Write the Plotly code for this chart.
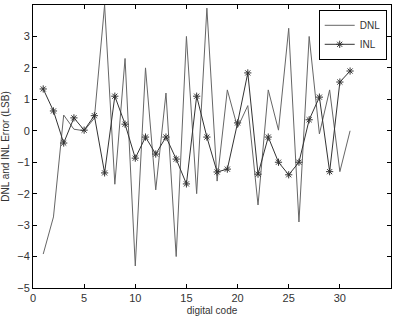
import plotly.graph_objects as go

codes = list(range(1, 32))
dnl = [-3.92, -2.74, 0.5, 0.05, 0.0, 0.4, 4.0, -1.7, 2.3, -4.3,
       2.0, -1.88, 1.2, -4.0, 3.0, -2.0, 3.9, -1.6, 1.3, 0.1,
       0.8, -2.36, 1.3, 0.02, 3.26, -2.9, 3.0, -0.1, 1.3, -1.3, 0.0]
inl = [1.33, 0.63, -0.39, 0.41, 0.02, 0.48, -1.34, 1.1, 0.21, -0.87,
       -0.2, -0.74, -0.2, -0.9, -1.69, 1.1, -0.2, -1.31, -1.22, 0.25,
       1.84, -1.38, -0.2, -1.0, -1.4, -1.0, 0.35, 1.07, -1.3, 1.55, 1.9]
xticks = [0, 5, 10, 15, 20, 25, 30, 35]
yticks = [-5, -4, -3, -2, -1, 0, 1, 2, 3, 4]

FONT = "Liberation Sans, Arial"
fig = go.Figure()
fig.add_trace(go.Scatter(x=codes, y=dnl, mode="lines", name="DNL",
                         line=dict(color="#666666", width=1)))
fig.add_trace(go.Scatter(x=codes, y=inl, mode="lines+markers", name="INL",
                         line=dict(color="#333333", width=1),
                         marker=dict(symbol="asterisk-open", size=6,
                                     line=dict(color="#111111", width=1))))

axis_common = dict(showline=True, linecolor="black", linewidth=1, mirror="ticks",
                   ticks="inside", ticklen=4, tickcolor="black", showgrid=False,
                   zeroline=False, tickfont=dict(family=FONT, size=11, color="#333"))
fig.update_xaxes(range=[0, 35], tickvals=xticks, **axis_common,
                 title=dict(text="digital code", font=dict(family=FONT, size=10, color="#333"), standoff=3))
fig.update_yaxes(range=[-5, 4], tickvals=yticks, **axis_common,
                 title=dict(text="DNL and INL Error (LSB)", font=dict(family=FONT, size=10, color="#333"), standoff=5))

fig.update_layout(
    width=397, height=320,
    margin=dict(l=33, r=6, t=5, b=32),
    paper_bgcolor="white", plot_bgcolor="white",
    showlegend=True,
    legend=dict(x=0.988, y=0.983, xanchor="right", yanchor="top",
                bgcolor="white", bordercolor="black", borderwidth=1,
                font=dict(family=FONT, size=10, color="#333"),
                itemwidth=30, tracegroupgap=0),
)
fig.write_html("out.html")
